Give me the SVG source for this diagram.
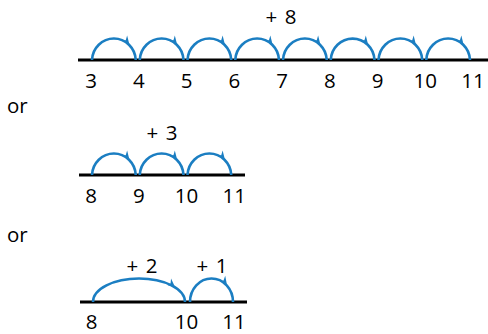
<svg xmlns="http://www.w3.org/2000/svg" xmlns:xlink="http://www.w3.org/1999/xlink" width="488" height="334" viewBox="0 0 488 334">
<style>
text{font-family:"Open Sans","Noto Sans","DejaVu Sans",sans-serif;font-size:20.5px;fill:#000;}
.n{text-anchor:middle;}
.lbl{text-anchor:middle;word-spacing:2px;}
.axis{stroke:#000;stroke-width:3;fill:none;}
.arc{stroke:#1b7ec2;stroke-width:2.6;fill:none;}
.ah{fill:#1b7ec2;}
</style>
<defs>
<path id="ah" d="M0,0 L-8,-4.8 L-5.6,-0.4 L-7.2,2.6 Z"/>
</defs>
<rect width="488" height="334" fill="#fff"/>

<g id="line1">
<line class="axis" x1="78" y1="60" x2="488" y2="60"/>
<text class="n" x="91" y="88">3</text>
<text class="n" x="138.75" y="88">4</text>
<text class="n" x="186.5" y="88">5</text>
<text class="n" x="234.25" y="88">6</text>
<text class="n" x="282" y="88">7</text>
<text class="n" x="329.75" y="88">8</text>
<text class="n" x="377.5" y="88">9</text>
<text class="n" x="425.25" y="88">10</text>
<text class="n" x="473" y="88">11</text>
<text class="lbl" x="281" y="24">+ 8</text>
</g>

<g id="or1"><text x="7" y="113">or</text></g>

<g id="line2">
<line class="axis" x1="79" y1="175" x2="245" y2="175"/>
<text class="n" x="91" y="203">8</text>
<text class="n" x="138.75" y="203">9</text>
<text class="n" x="186.5" y="203">10</text>
<text class="n" x="234.25" y="203">11</text>
<text class="lbl" x="162" y="140">+ 3</text>
</g>

<g id="or2"><text x="7" y="241.5">or</text></g>

<g id="line3">
<line class="axis" x1="80" y1="302" x2="247" y2="302"/>
<text class="n" x="91.5" y="328.5">8</text>
<text class="n" x="186.5" y="328.5">10</text>
<text class="n" x="234" y="328.5">11</text>
<text class="lbl" x="142" y="273">+ 2</text>
<text class="lbl" x="212" y="273">+ 1</text>
</g>

<g id="connectors">
<path class="arc" d="M92,60 A21.9,22.5 0 0 1 135.75,60"/>
<path class="arc" d="M139.75,60 A21.9,22.5 0 0 1 183.5,60"/>
<path class="arc" d="M187.5,60 A21.9,22.5 0 0 1 231.25,60"/>
<path class="arc" d="M235.25,60 A21.9,22.5 0 0 1 279,60"/>
<path class="arc" d="M283,60 A21.9,22.5 0 0 1 326.75,60"/>
<path class="arc" d="M330.75,60 A21.9,22.5 0 0 1 374.5,60"/>
<path class="arc" d="M378.5,60 A21.9,22.5 0 0 1 422.25,60"/>
<path class="arc" d="M426.25,60 A21.9,22.5 0 0 1 470,60"/>
<use class="ah" xlink:href="#ah" transform="translate(129.4,44.5) rotate(45)"/>
<use class="ah" xlink:href="#ah" transform="translate(177.1,44.5) rotate(45)"/>
<use class="ah" xlink:href="#ah" transform="translate(224.9,44.5) rotate(45)"/>
<use class="ah" xlink:href="#ah" transform="translate(272.6,44.5) rotate(45)"/>
<use class="ah" xlink:href="#ah" transform="translate(320.4,44.5) rotate(45)"/>
<use class="ah" xlink:href="#ah" transform="translate(368.1,44.5) rotate(45)"/>
<use class="ah" xlink:href="#ah" transform="translate(415.9,44.5) rotate(45)"/>
<use class="ah" xlink:href="#ah" transform="translate(463.6,44.5) rotate(45)"/>

<path class="arc" d="M92,175 A21.9,22.5 0 0 1 135.75,175"/>
<path class="arc" d="M139.75,175 A21.9,22.5 0 0 1 183.5,175"/>
<path class="arc" d="M187.5,175 A21.9,22.5 0 0 1 231.25,175"/>
<use class="ah" xlink:href="#ah" transform="translate(129.4,159.5) rotate(45)"/>
<use class="ah" xlink:href="#ah" transform="translate(177.1,159.5) rotate(45)"/>
<use class="ah" xlink:href="#ah" transform="translate(224.9,159.5) rotate(45)"/>

<path class="arc" d="M93,302 A46,23.5 0 0 1 185,302"/>
<path class="arc" d="M190,302 A21.5,23.5 0 0 1 233,302"/>
<use class="ah" xlink:href="#ah" transform="translate(175,287) rotate(34)"/>
<use class="ah" xlink:href="#ah" transform="translate(227,285) rotate(48)"/>
</g>
</svg>
